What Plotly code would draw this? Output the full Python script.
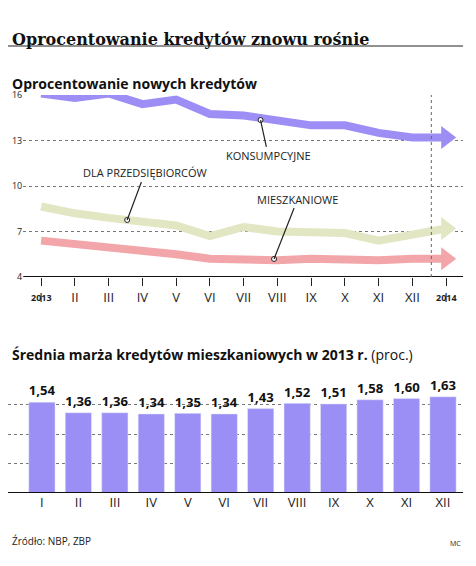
import plotly.graph_objects as go

months = ["I", "II", "III", "IV", "V", "VI", "VII", "VIII", "IX", "X", "XI", "XII", "I"]
konsumpcyjne = [16.1, 15.8, 16.1, 15.4, 15.7, 14.75, 14.65, 14.3, 14.0, 14.0, 13.5, 13.2, 13.2]
przedsiebiorcy = [8.65, 8.2, 7.9, 7.6, 7.4, 6.7, 7.3, 7.0, 7.0, 6.9, 6.4, 6.8, 7.2]
mieszkaniowe = [6.4, 6.2, 6.0, 5.7, 5.5, 5.2, 5.1, 5.1, 5.2, 5.1, 5.1, 5.2, 5.2]

marza_months = months[:12]
marza = [1.54, 1.36, 1.36, 1.34, 1.35, 1.34, 1.43, 1.52, 1.51, 1.58, 1.60, 1.63]

FONT = "Open Sans"
fig = go.Figure()

xs = list(range(len(months)))
for vals, col in [(konsumpcyjne, "#9d8ef6"), (przedsiebiorcy, "#e2e6c2"), (mieszkaniowe, "#f2a6a9")]:
    fig.add_trace(go.Scatter(x=xs, y=vals, mode="lines", line=dict(color=col, width=8),
                             xaxis="x", yaxis="y", hoverinfo="skip"))
    fig.add_trace(go.Scatter(x=[xs[-1]], y=[vals[-1]], mode="markers",
                             marker=dict(symbol="triangle-right", size=20, color=col),
                             xaxis="x", yaxis="y", hoverinfo="skip"))

fig.add_trace(go.Bar(x=list(range(12)), y=marza, marker_color="#9b8ff5", width=0.72,
                     text=["<b>" + f"{v:.2f}".replace(".", ",") + "</b>" for v in marza],
                     textposition="outside",
                     textfont=dict(family=FONT, size=14, color="#111"),
                     xaxis="x2", yaxis="y2", cliponaxis=False))

fig.update_layout(
    width=476, height=566, margin=dict(l=0, r=0, t=0, b=0),
    paper_bgcolor="white", plot_bgcolor="white", showlegend=False,
    xaxis=dict(domain=[0.032, 0.956], range=[-0.53, 12.5], tickvals=xs, ticktext=months,
               showgrid=False, zeroline=False, ticks="outside", ticklen=8, tickcolor="#222",
               automargin=False, tickfont=dict(family=FONT, size=13, color="#222")),
    yaxis=dict(domain=[0.5247, 0.8463], range=[4, 16], tickvals=[4, 7, 10, 13, 16],
               showgrid=True, gridcolor="#777", griddash="dot", gridwidth=1, zeroline=False,
               ticks="", automargin=False, tickfont=dict(family=FONT, size=9, color="#222")),
    xaxis2=dict(domain=[0.0, 0.956], range=[-0.93, 11.55], tickvals=list(range(12)), ticktext=marza_months,
                showgrid=False, zeroline=False, anchor="y2", automargin=False,
                tickfont=dict(family=FONT, size=13, color="#222")),
    yaxis2=dict(domain=[0.1431, 0.3516], range=[0, 2], tickvals=[0.5, 1, 1.5, 2], showticklabels=False,
                showgrid=True, gridcolor="#777", griddash="dot", zeroline=False, anchor="x2",
                automargin=False),
)

# baselines and the year divider
fig.add_shape(type="line", xref="x domain", yref="y", x0=0, x1=1, y0=4, y1=4, line=dict(color="#111", width=2))
fig.add_shape(type="line", xref="x2 domain", yref="y2", x0=0, x1=1, y0=0, y1=0, line=dict(color="#111", width=2))
fig.add_shape(type="line", xref="x", yref="y", x0=11.56, x1=11.56, y0=4, y1=16.2,
              line=dict(color="#666", width=1, dash="dot"))

def callout(text, px, py, tx, ty):
    fig.add_annotation(x=px, y=py, ax=tx, ay=ty, axref="x", ayref="y", xref="x", yref="y",
                       text=text, showarrow=True, arrowhead=0, arrowwidth=1.2, arrowcolor="#222",
                       font=dict(family=FONT, size=11, color="#222"), bgcolor="rgba(0,0,0,0)")
    fig.add_trace(go.Scatter(x=[px], y=[py], mode="markers", xaxis="x", yaxis="y", hoverinfo="skip",
                             marker=dict(size=5, color="white", line=dict(color="#222", width=1))))

callout("KONSUMPCYJNE", 6.5, 14.35, 6.73, 11.98)
callout("DLA PRZEDSIĘBIORCÓW", 2.55, 7.76, 3.07, 10.86)
callout("MIESZKANIOWE", 6.9, 5.19, 7.6, 9.14)

fig.add_annotation(text="<b>2013</b>", x=0, y=-0.16, xref="x", yref="y domain", showarrow=False,
                   font=dict(family=FONT, size=9, color="#222"))
fig.add_annotation(text="<b>2014</b>", x=12, y=-0.16, xref="x", yref="y domain", showarrow=False,
                   font=dict(family=FONT, size=9, color="#222"))

fig.add_annotation(text="<b>Oprocentowanie kredytów znowu rośnie</b>", x=0.005, y=1 - 20 / 566,
                   xref="paper", yref="paper", xanchor="left", showarrow=False,
                   font=dict(family="DejaVu Serif", size=16, color="#111"))
fig.add_shape(type="line", xref="paper", yref="paper", x0=0, x1=0.956, y0=1 - 38 / 566, y1=1 - 38 / 566,
              line=dict(color="#222", width=1))
fig.add_annotation(text="<b>Oprocentowanie nowych kredytów</b>", x=0.005, y=1 - 64 / 566,
                   xref="paper", yref="paper", xanchor="left", showarrow=False,
                   font=dict(family=FONT, size=14, color="#111"))
fig.add_annotation(text="<b>Średnia marża kredytów mieszkaniowych w 2013 r.</b> (proc.)", x=0.005, y=1 - 346 / 566,
                   xref="paper", yref="paper", xanchor="left", showarrow=False,
                   font=dict(family=FONT, size=14, color="#111"))
fig.add_annotation(text="Źródło: NBP, ZBP", x=0.005, y=1 - 542 / 566, xref="paper", yref="paper",
                   xanchor="left", showarrow=False, font=dict(family=FONT, size=10, color="#222"))
fig.add_annotation(text="MC", x=0.955, y=1 - 542 / 566, xref="paper", yref="paper",
                   xanchor="right", showarrow=False, font=dict(family=FONT, size=7, color="#222"))

fig.write_html("out.html")
